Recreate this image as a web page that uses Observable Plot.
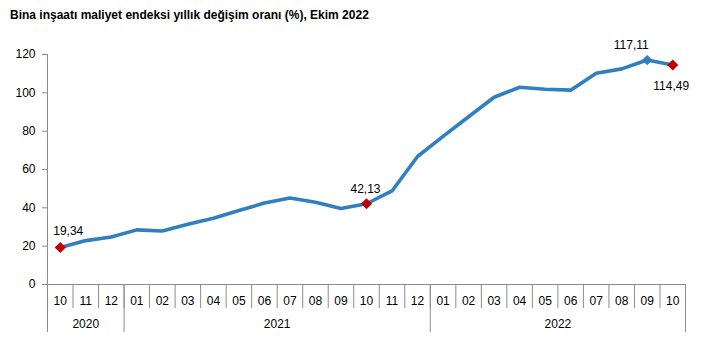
<!DOCTYPE html>
<html>
<head>
<meta charset="utf-8">
<script src="https://cdn.jsdelivr.net/npm/d3@7"></script>
<script src="https://cdn.jsdelivr.net/npm/@observablehq/plot@0.6"></script>
<style>
  html, body { margin: 0; padding: 0; background: #fff; }
  #title { font: bold 12px "Liberation Sans", Arial, sans-serif; padding: 8px 0 0 10px; height: 20px; line-height: 14px; color: #000; white-space: nowrap; }
  #chart svg { display: block; }
</style>
</head>
<body>
<div id="title">Bina inşaatı maliyet endeksi yıllık değişim oranı (%), Ekim 2022</div>
<div id="chart"></div>
<script>
const months = ["10","11","12","01","02","03","04","05","06","07","08","09","10","11","12","01","02","03","04","05","06","07","08","09","10"];
const monthYears = ["2020","2020","2020","2021","2021","2021","2021","2021","2021","2021","2021","2021","2021","2021","2021","2022","2022","2022","2022","2022","2022","2022","2022","2022","2022"];
const values = [19.34, 22.9, 24.8, 28.5, 27.9, 31.4, 34.6, 38.6, 42.5, 45.1, 42.9, 39.6, 42.13, 48.8, 66.8, 77.3, 87.5, 97.7, 102.9, 101.9, 101.4, 110.2, 112.5, 117.11, 114.49];
const yTicks = [0, 20, 40, 60, 80, 100, 120];
const labeledRed = [0, 12, 24];
const labeledBlue = [23];

const data = values.map((v, i) => ({i, month: months[i], year: monthYears[i], v}));
const n = data.length;
const xDomain = [-0.5, n - 0.5];

// month separators and year groups derived from data
const monthSeps = d3.range(n + 1).map(k => k - 0.5);
const yearNames = Array.from(new Set(monthYears));
const yearGroups = yearNames.map(y => {
  const idx = data.filter(d => d.year === y).map(d => d.i);
  return {year: y, start: d3.min(idx) - 0.5, end: d3.max(idx) + 0.5};
});
const yearSeps = Array.from(new Set(yearGroups.flatMap(g => [g.start, g.end])));
const yearCenters = yearGroups.map(g => (g.start + g.end) / 2);
const yearByCenter = new Map(yearGroups.map(g => [(g.start + g.end) / 2, g.year]));

const fmt = v => v.toFixed(2).replace(".", ",");
const pick = arr => data.filter(d => arr.includes(d.i));
const gray = "#8c8c8c";
const blue = "#2f7fc1";
const red = "#c00000";

const chart = Plot.plot({
  width: 713,
  height: 325,
  marginLeft: 47,
  marginRight: 28,
  marginTop: 26,
  marginBottom: 69,
  style: {fontFamily: "'Liberation Sans', Arial, sans-serif", fontSize: "12px", color: "#000", background: "#fff"},
  x: {type: "linear", domain: xDomain, label: null},
  y: {domain: [0, 120], label: null},
  marks: [
    Plot.axisY(yTicks, {tickSize: 5, tickPadding: 7, stroke: gray, fill: "#000", label: null}),
    Plot.ruleX([xDomain[0]], {stroke: gray}),
    Plot.ruleY([0], {stroke: gray}),
    Plot.axisX(monthSeps, {tickSize: 24, tickFormat: () => "", stroke: gray, label: null}),
    Plot.axisX(yearSeps, {tickSize: 48, tickFormat: () => "", stroke: gray, label: null}),
    Plot.axisX(d3.range(n), {tickSize: 0, tickPadding: 12, tickFormat: k => months[k], fill: "#000", label: null}),
    Plot.axisX(yearCenters, {tickSize: 0, tickPadding: 35, tickFormat: c => yearByCenter.get(c), fill: "#000", label: null}),
    Plot.line(data, {x: "i", y: "v", stroke: blue, strokeWidth: 3.6, strokeLinejoin: "round"}),
    Plot.dot(pick(labeledBlue), {x: "i", y: "v", symbol: "diamond2", r: 4.6, fill: blue, stroke: null}),
    Plot.dot(pick(labeledRed), {x: "i", y: "v", symbol: "diamond2", r: 5, fill: red, stroke: null}),
    Plot.text(pick([0]), {x: "i", y: "v", text: d => fmt(d.v), dx: 8, dy: -16, fill: "#000"}),
    Plot.text(pick([12]), {x: "i", y: "v", text: d => fmt(d.v), dx: -1, dy: -15, fill: "#000"}),
    Plot.text(pick([23]), {x: "i", y: "v", text: d => fmt(d.v), dx: -16, dy: -15, fill: "#000"}),
    Plot.text(pick([24]), {x: "i", y: "v", text: d => fmt(d.v), dx: -1.5, dy: 21.5, fill: "#000"})
  ]
});
document.getElementById("chart").appendChild(chart);
</script>
</body>
</html>
